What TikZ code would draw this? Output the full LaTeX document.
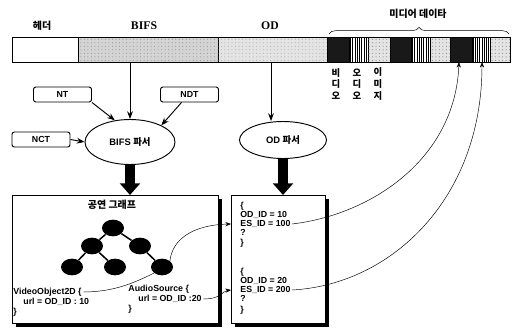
\documentclass[tikz,border=0pt]{standalone}
\usepackage{fontspec}
\setmainfont{Liberation Sans}
\newfontfamily\serifbf{Liberation Serif}
\newfontfamily\kor{Noto Sans CJK KR}
\usepackage{tikz}
\usetikzlibrary{shapes,arrows.meta,positioning,calc,shadows,patterns,decorations.pathreplacing}
\definecolor{bifsgrey}{RGB}{212,212,212}
\definecolor{odgrey}{RGB}{228,228,228}
\definecolor{mediadark}{RGB}{25,25,25}

\begin{document}
\begin{tikzpicture}[x=0.3mm, y=-0.3mm,
    tbl/.style={rectangle, draw, rounded corners=2pt, thick, minimum width=17.4mm,
        minimum height=4.5mm, font=\fontsize{7.5}{9}\selectfont\bfseries},
    parser/.style={ellipse, draw, thick, font=\fontsize{8}{9}\selectfont\bfseries},
    panel/.style={rectangle, draw, thick, fill=white, anchor=north west,
        drop shadow={shadow xshift=1.1mm, shadow yshift=-1.1mm, fill=black, opacity=1}},
    code/.style={anchor=west, inner sep=1pt, font=\fontsize{7.5}{9}\selectfont\bfseries},
    korlbl/.style={font=\fontsize{8.5}{10}\selectfont\kor\bfseries},
    treenode/.style={ellipse, fill=black, minimum width=6.6mm, minimum height=5mm, inner sep=0pt},
    bigarrow/.style={line width=9pt, -{Triangle[length=10pt,width=17pt]}},
    >=Stealth
]
\useasboundingbox (0,0) rectangle (513,331);

\draw[thick, fill=white] (12,37) rectangle (78,62);
\draw[thick, fill=bifsgrey, postaction={pattern=dots, pattern color=black!40}] (78,37) rectangle (218,62);
\draw[thick, fill=odgrey, postaction={pattern=dots, pattern color=black!30}] (218,37) rectangle (327,62);
\foreach \a/\b in {327/349, 390/411, 450/472}
  \draw[thick, fill=mediadark] (\a,37) rectangle (\b,62);
\foreach \a/\b in {349/368, 411/430, 472/490} {
  \draw[thick, fill=white] (\a,37) rectangle (\b,62);
  \foreach \x in {0,...,7}
    \draw[line width=0.9pt] ({\a+(\x+0.7)*(\b-\a)/8.4},37) -- ({\a+(\x+0.7)*(\b-\a)/8.4},62);
}
\foreach \a/\b in {368/390, 430/450, 490/510}
  \draw[thick, fill=odgrey, postaction={pattern=dots, pattern color=black!45}] (\a,37) rectangle (\b,62);
\draw[thick] (12,37) rectangle (510,62);

\coordinate (bifsout) at (130,62);
\coordinate (odout) at (271,62);
\coordinate (vidin) at (459,62);
\coordinate (audin) at (482,62);

\node[korlbl] (hdr) at (42,26) {헤더};
\node[font=\fontsize{10}{12}\selectfont\serifbf\bfseries] (bifslbl) at (144,26) {BIFS};
\node[font=\fontsize{10}{12}\selectfont\serifbf\bfseries] (odlbl) at (270,26) {OD};
\draw[decorate, decoration={brace, amplitude=2mm}] (329,34) -- (509,34);
\node[korlbl] (media) at (418,14) {미디어 데이타};
\node[korlbl, align=center, font=\fontsize{8}{10}\selectfont\kor\bfseries] (vlbl) at (336,84) {비\\디\\오};
\node[korlbl, align=center, font=\fontsize{8}{10}\selectfont\kor\bfseries] (albl) at (357,84) {오\\디\\오};
\node[korlbl, align=center, font=\fontsize{8}{10}\selectfont\kor\bfseries] (ilbl) at (378,84) {이\\미\\지};

\node[tbl] (nt) at (62.5,94.5) {NT};
\node[tbl] (ndt) at (189.5,94.5) {NDT};
\node[tbl] (nct) at (41,139.5) {NCT};
\node[parser, minimum width=27mm, minimum height=13.5mm] (bp) at (130,142) {BIFS {\kor 파서}};
\node[parser, minimum width=26.1mm, minimum height=11.1mm] (op) at (283,140) {OD {\kor 파서}};

\draw[->, thick] (bifsout) -- (bp.north);
\draw[->, thick] (nt.south east) -- (bp.125);
\draw[->, thick] ([xshift=-2.4mm]ndt.south) -- (bp.28);
\draw[->, thick] (nct.east) -- (bp.west);
\draw[->, thick] (odout) -- (odout |- op.north);

\node[panel, minimum width=61.8mm, minimum height=38.4mm] (scene) at (12,195) {};
\node[panel, minimum width=28.2mm, minimum height=38.4mm] (odbox) at (231,195) {};
\draw[bigarrow] (bp.south) -- (bp.south |- scene.north);
\draw[bigarrow] (op.south) -- (op.south |- odbox.north);

\node[korlbl] (title) at (112,205) {공연 그래프};
\node[treenode] (root) at (113,228) {};
\node[treenode] (nl) at (92,246) {};
\node[treenode] (nr) at (140,246) {};
\node[treenode] (ll) at (72,267) {};
\node[treenode] (lm) at (115,267) {};
\node[treenode] (lr) at (162,267) {};
\draw[line width=1.3pt] (root) -- (nl) (root) -- (nr) (nl) -- (ll) (nl) -- (lm) (nr) -- (lr);

\node[code] (vo) at (12,292) {VideoObject2D \{};
\node[code] (vourl) at (22,302) {url = OD\_ID : 10};
\node[code] (voend) at (12,312) {\}};
\node[code] (au) at (127,289) {AudioSource \{};
\node[code] (auurl) at (137,299) {url = OD\_ID :20};
\node[code] (auend) at (127,309) {\}};

\node[code] (ob1) at (239,206) {\{};
\node[code] (od1) at (239,215) {OD\_ID = 10};
\node[code] (es1) at (239,224) {ES\_ID = 100};
\node[code] (q1) at (239,232) {?};
\node[code] (cb1) at (239,243) {\}};
\node[code] (ob2) at (239,272) {\{};
\node[code] (od2) at (239,281) {OD\_ID = 20};
\node[code] (es2) at (239,290) {ES\_ID = 200};
\node[code] (q2) at (239,298) {?};
\node[code] (cb2) at (239,310) {\}};

\draw (vo.east) .. controls (112,292) and (132,284) .. (lr.south west);
\draw[->] (lr.north east) .. controls (172,240) and (192,225) .. (es1 -| odbox.west);
\draw[->] (auurl.east) .. controls (222,299) and (222,291) .. (es2 -| odbox.west);
\draw[->] (es1.east) .. controls (370,215) and (455,160) .. (vidin);
\draw[->] (es2.east) .. controls (390,285) and (482,200) .. (audin);
\end{tikzpicture}
\end{document}
